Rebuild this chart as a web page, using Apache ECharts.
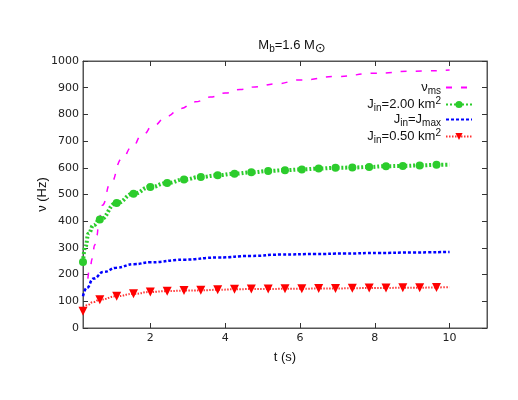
<!DOCTYPE html>
<html>
<head>
<meta charset="utf-8">
<script src="https://cdn.jsdelivr.net/npm/echarts@6/dist/echarts.min.js"></script>
<style>
html,body{margin:0;padding:0;background:#fff;}
#chart{width:518px;height:400px;}
</style>
</head>
<body>
<div id="chart"></div>
<script>
// tick labels
var xTicks = [2, 4, 6, 8, 10];

// nu_ms (magenta dashed)
var msT = [0.33, 0.39, 0.45, 0.51, 0.57, 0.63, 0.72, 0.93, 1.24, 1.51, 1.78, 2.09, 2.44, 2.8, 3.2, 3.6, 4.0, 4.4, 4.8, 5.38, 6.0, 7.0, 8.0, 9.0, 10.0];
var msV = [185, 229, 260, 310, 347, 410, 460, 541, 634, 678, 722, 759, 793, 822, 847, 865, 880, 893, 903, 915, 929, 942, 954, 962, 966];

// J_in = 2.00 km^2 (green dots + circles)
var hiT = [0.2, 0.26, 0.35, 0.48, 0.65, 1.1, 1.55, 2.0, 2.45, 2.9, 3.35, 3.8, 4.25, 4.7, 5.15, 5.6, 6.05, 6.5, 6.95, 7.4, 7.85, 8.3, 8.75, 9.2, 9.65, 10.0];
var hiV = [247, 303, 354, 385, 406, 468, 503, 528, 543, 556, 566, 572, 578, 583, 588, 591, 594, 597, 600, 601, 603, 606, 607, 609, 611, 612];

// J_in = J_max (blue)
var maxT = [0.2, 0.3, 0.48, 0.75, 1.1, 1.56, 2.0, 2.9, 3.8, 4.7, 5.5, 6.4, 7.2, 8.1, 9.0, 10.0];
var maxV = [119, 150, 185, 210, 226, 239, 246, 256, 264, 270, 275, 277, 279, 281, 283, 285];

// J_in = 0.50 km^2 (red + triangles)
var loT = [0.2, 0.3, 0.48, 0.65, 1.1, 1.55, 2.0, 2.45, 2.9, 3.35, 3.8, 4.25, 4.7, 5.15, 5.6, 6.05, 6.5, 6.95, 7.4, 7.85, 8.3, 8.75, 9.2, 9.65, 10.0];
var loV = [63, 85, 97, 106, 119, 128, 135, 138, 140, 141, 143, 145, 146, 146, 147, 147, 148, 148, 149, 150, 150, 151, 151, 152, 153];

// times where point symbols are drawn
var markT = [0.2, 0.65, 1.1, 1.55, 2.0, 2.45, 2.9, 3.35, 3.8, 4.25, 4.7, 5.15, 5.6, 6.05, 6.5, 6.95, 7.4, 7.85, 8.3, 8.75, 9.2, 9.65];

var NAMES = ['ν_ms', 'J_in=2.00 km^2', 'J_in=J_max', 'J_in=0.50 km^2'];
var RICH = {
	'ν_ms': '{n|ν}{s|ms}',
	'J_in=2.00 km^2': '{n|J}{s|in}{n|=2.00 km}{p|2}',
	'J_in=J_max': '{n|J}{s|in}{n|=J}{s|max}',
	'J_in=0.50 km^2': '{n|J}{s|in}{n|=0.50 km}{p|2}'
};

function toData(ts, vs, marks){
	var out = [];
	for (var i = 0; i < ts.length; i++) {
		if (marks && marks.indexOf(ts[i]) >= 0) {
			out.push([ts[i], vs[i]]);
		} else {
			out.push({value: [ts[i], vs[i]], symbol: 'none'});
		}
	}
	return out;
}

var AXIS_COLOR = '#555';
var FONT = 'Liberation Sans';
var NOSYM = {color: 'rgba(0,0,0,0)', borderWidth: 0};

function axisBase(){
	return {
		type: 'value',
		axisLine: {show: true, onZero: false, lineStyle: {color: AXIS_COLOR, width: 1}},
		splitLine: {show: false}
	};
}

function renderChart(){
	var myChart = echarts.init(document.getElementById('chart'), null, {renderer: 'canvas'});

	var xBottom = axisBase();
	xBottom.position = 'bottom';
	xBottom.min = 0.2;
	xBottom.max = 11;
	xBottom.axisTick = {show: true, inside: true, length: 5, customValues: xTicks, lineStyle: {color: '#333'}};
	xBottom.axisLabel = {customValues: xTicks, color: '#222', fontSize: 11, fontFamily: 'DejaVu Sans', margin: 5};
	xBottom.name = 't (s)';
	xBottom.nameLocation = 'middle';
	xBottom.nameGap = 23;
	xBottom.nameTextStyle = {fontSize: 13, fontFamily: FONT, color: '#111'};

	var xTop = axisBase();
	xTop.position = 'top';
	xTop.min = 0.2;
	xTop.max = 11;
	xTop.axisTick = {show: true, inside: true, length: 5, customValues: xTicks, lineStyle: {color: '#333'}};
	xTop.axisLabel = {show: false};

	var yLeft = axisBase();
	yLeft.position = 'left';
	yLeft.min = 0;
	yLeft.max = 1000;
	yLeft.interval = 100;
	yLeft.axisTick = {show: true, inside: true, length: 5, lineStyle: {color: '#333'}};
	yLeft.axisLabel = {color: '#222', fontSize: 11, fontFamily: 'DejaVu Sans', margin: 4, formatter: function(v){ return String(v); }};
	yLeft.name = 'ν (Hz)';
	yLeft.nameLocation = 'middle';
	yLeft.nameGap = 34;
	yLeft.nameMoveOverlap = false;
	yLeft.nameTextStyle = {fontSize: 13, fontFamily: FONT, color: '#111'};

	var yRight = axisBase();
	yRight.position = 'right';
	yRight.min = 0;
	yRight.max = 1000;
	yRight.interval = 100;
	yRight.axisTick = {show: true, inside: true, length: 5, lineStyle: {color: '#333'}};
	yRight.axisLabel = {show: false};

	myChart.setOption({
		backgroundColor: '#fff',
		animation: false,
		title: {
			text: '{n|M}{s|b}{n|=1.6 M}{o|⊙}',
			left: 287,
			textAlign: 'center',
			top: 31,
			textStyle: {
				fontWeight: 'normal',
				rich: {
					n: {fontSize: 13, fontFamily: FONT, color: '#111', fontWeight: 'normal'},
					s: {fontSize: 10, fontFamily: FONT, color: '#111', fontWeight: 'normal', padding: [7, 0, 0, 0]},
					o: {fontSize: 13, fontFamily: 'DejaVu Sans', color: '#111', fontWeight: 'normal', padding: [6, 0, 0, 0]}
				}
			}
		},
		grid: {left: 83, right: 31, top: 61, bottom: 72, show: true, borderColor: AXIS_COLOR, borderWidth: 1, backgroundColor: 'transparent'},
		legend: {
			orient: 'vertical',
			right: 40,
			top: 76,
			align: 'right',
			itemWidth: 26,
			itemHeight: 9,
			itemGap: 0,
			data: [
				{name: NAMES[0], itemStyle: NOSYM},
				{name: NAMES[1]},
				{name: NAMES[2], itemStyle: NOSYM},
				{name: NAMES[3]}
			],
			formatter: function(name){ return RICH[name]; },
			textStyle: {
				rich: {
					n: {fontSize: 13, fontFamily: FONT, color: '#111'},
					s: {fontSize: 10, fontFamily: FONT, color: '#111', padding: [7, 0, 0, 0]},
					p: {fontSize: 10, fontFamily: FONT, color: '#111', padding: [0, 0, 7, 0]}
				}
			}
		},
		xAxis: [xBottom, xTop],
		yAxis: [yLeft, yRight],
		series: [
			{
				name: NAMES[0],
				type: 'line',
				smooth: true,
				smoothMonotone: 'x',
				symbol: 'none',
				color: '#ff00ff',
				lineStyle: {color: '#ff00ff', width: 1.5, type: [6, 9]},
				data: toData(msT, msV, null)
			},
			{
				name: NAMES[1],
				type: 'line',
				smooth: true,
				smoothMonotone: 'x',
				symbol: 'circle',
				symbolSize: 8,
				showSymbol: true,
				showAllSymbol: true,
				color: '#2ccc2c',
				itemStyle: {color: '#2ccc2c'},
				lineStyle: {color: '#2ccc2c', width: 4, type: [2, 2]},
				data: toData(hiT, hiV, markT)
			},
			{
				name: NAMES[2],
				type: 'line',
				smooth: true,
				smoothMonotone: 'x',
				symbol: 'none',
				color: '#0000ff',
				lineStyle: {color: '#0000ff', width: 2.5, type: [3, 2]},
				data: toData(maxT, maxV, null)
			},
			{
				name: NAMES[3],
				type: 'line',
				smooth: true,
				smoothMonotone: 'x',
				symbol: 'triangle',
				symbolRotate: 180,
				symbolSize: 9,
				showSymbol: true,
				showAllSymbol: true,
				color: '#ff0000',
				itemStyle: {color: '#ff0000'},
				lineStyle: {color: '#ff3333', width: 2, type: [1.5, 1.5]},
				data: toData(loT, loV, markT)
			}
		]
	});
}

renderChart();
</script>
</body>
</html>
